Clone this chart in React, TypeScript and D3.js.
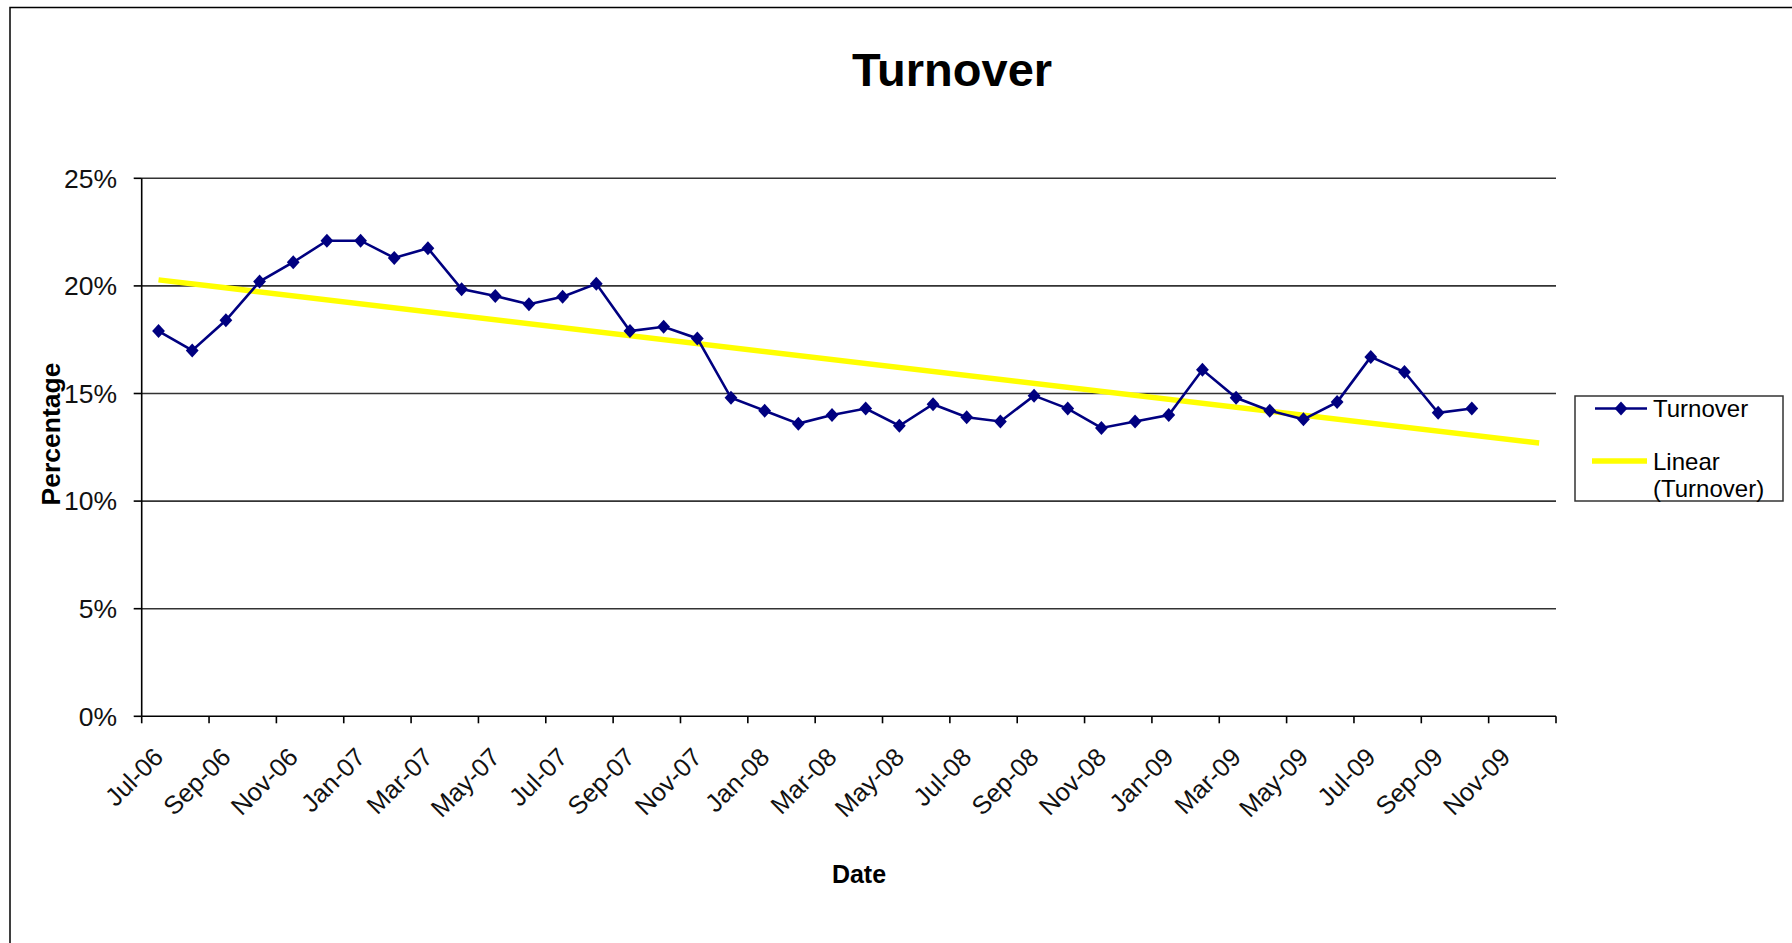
import React from "react";
import * as d3 from "d3";

const allMonths = [
  "Jul-06","Aug-06","Sep-06","Oct-06","Nov-06","Dec-06",
  "Jan-07","Feb-07","Mar-07","Apr-07","May-07","Jun-07","Jul-07","Aug-07","Sep-07","Oct-07","Nov-07","Dec-07",
  "Jan-08","Feb-08","Mar-08","Apr-08","May-08","Jun-08","Jul-08","Aug-08","Sep-08","Oct-08","Nov-08","Dec-08",
  "Jan-09","Feb-09","Mar-09","Apr-09","May-09","Jun-09","Jul-09","Aug-09","Sep-09","Oct-09","Nov-09","Dec-09",
];

const dataMonths = allMonths.slice(0, 40);

const turnover = [
  17.9, 17.0, 18.4, 20.2, 21.1, 22.1,
  22.1, 21.3, 21.75, 19.85, 19.53, 19.15, 19.5, 20.1, 17.9, 18.1, 17.56, 14.8,
  14.2, 13.6, 14.0, 14.3, 13.5, 14.5, 13.9, 13.7, 14.9, 14.3, 13.4, 13.7,
  14.0, 16.1, 14.8, 14.2, 13.8, 14.6, 16.7, 16.0, 14.1, 14.3,
];

const trendMonths = ["Jul-06", "Dec-09"];
const trendValues = [20.28, 12.7];

const tickMonths = allMonths.filter((_, i) => i % 2 === 0);
const yTicks = [0, 5, 10, 15, 20, 25];

const W = 1792;
const H = 943;
const FONT = "'Liberation Sans', Arial, sans-serif";

export default function App() {
  React.useEffect(() => {
    document.body.style.margin = "0";
  }, []);

  const x = d3.scaleBand<string>().domain(allMonths).range([141.7, 1556]).paddingInner(0).paddingOuter(0);
  const bw = x.bandwidth();
  const cx = (m: string) => (x(m) as number) + bw / 2;
  const y = d3.scaleLinear().domain([0, 25]).range([716.3, 178.3]);

  const line = d3
    .line<number>()
    .x((_, i) => cx(dataMonths[i]))
    .y((d) => y(d));

  const trendLine = d3
    .line<number>()
    .x((_, i) => cx(trendMonths[i]))
    .y((d) => y(d));

  const diamond = "M0,-7L6.4,0L0,7L-6.4,0Z";
  const x0 = 141.7;
  const x1 = 1556;

  const tickPositions = tickMonths.map((m) => x(m) as number).concat([x1]);

  return (
    <svg width={W} height={H} style={{ position: "absolute", left: 0, top: 0, background: "#fff" }} fontFamily={FONT}>
      <rect x={0} y={0} width={W} height={H} fill="#fff" />
      <rect x={10} y={7.5} width={W + 20} height={H + 20} fill="none" stroke="#000" strokeWidth={1.5} />

      <text x={952} y={86} textAnchor="middle" fontSize={47} fontWeight="bold" fill="#000">
        Turnover
      </text>

      {/* gridlines */}
      {yTicks.filter((t) => t > 0).map((t) => (
        <line key={"g" + t} x1={x0} x2={x1} y1={y(t)} y2={y(t)} stroke="#333" strokeWidth={1.6} />
      ))}
      {/* y axis */}
      <line x1={x0} x2={x0} y1={y(25)} y2={y(0)} stroke="#000" strokeWidth={1.6} />
      {yTicks.map((t) => (
        <g key={"yt" + t}>
          <line x1={x0 - 8} x2={x0} y1={y(t)} y2={y(t)} stroke="#000" strokeWidth={1.6} />
          <text x={117} y={y(t)} dy="0.35em" textAnchor="end" fontSize={26.5} fill="#111">
            {t + "%"}
          </text>
        </g>
      ))}
      {/* x axis */}
      <line x1={x0} x2={x1} y1={y(0)} y2={y(0)} stroke="#000" strokeWidth={1.6} />
      {tickPositions.map((p, i) => (
        <line key={"xt" + i} x1={p} x2={p} y1={y(0)} y2={y(0) + 7} stroke="#000" strokeWidth={1.6} />
      ))}
      {tickMonths.map((m) => (
        <text
          key={"xl" + m}
          transform={`translate(${cx(m)},${y(0) + 36}) rotate(-45)`}
          dy="0.35em"
          textAnchor="end"
          fontSize={25.5}
          fill="#111"
        >
          {m}
        </text>
      ))}

      {/* axis titles */}
      <text x={859} y={883} textAnchor="middle" fontSize={25} fontWeight="bold" fill="#000">
        Date
      </text>
      <text transform="translate(60,434) rotate(-90)" textAnchor="middle" fontSize={26.5} fontWeight="bold" fill="#000">
        Percentage
      </text>

      {/* trend */}
      <path d={trendLine(trendValues) || ""} fill="none" stroke="#FFFF00" strokeWidth={5.5} />

      {/* series */}
      <path d={line(turnover) || ""} fill="none" stroke="#000080" strokeWidth={2.6} />
      {turnover.map((v, i) => (
        <path key={"p" + i} d={diamond} transform={`translate(${cx(dataMonths[i])},${y(v)})`} fill="#000080" />
      ))}

      {/* legend */}
      <rect x={1575} y={396} width={208} height={105} fill="#fff" stroke="#333" strokeWidth={1.5} />
      <line x1={1595} x2={1647} y1={408.5} y2={408.5} stroke="#000080" strokeWidth={2.6} />
      <path d={diamond} transform="translate(1621,408.5)" fill="#000080" />
      <text x={1653} y={417} fontSize={24} fill="#000">
        Turnover
      </text>
      <line x1={1592} x2={1647} y1={461} y2={461} stroke="#FFFF00" strokeWidth={5.5} />
      <text x={1653} y={469.5} fontSize={24} fill="#000">
        Linear
      </text>
      <text x={1653} y={496.5} fontSize={24} fill="#000">
        (Turnover)
      </text>
    </svg>
  );
}
